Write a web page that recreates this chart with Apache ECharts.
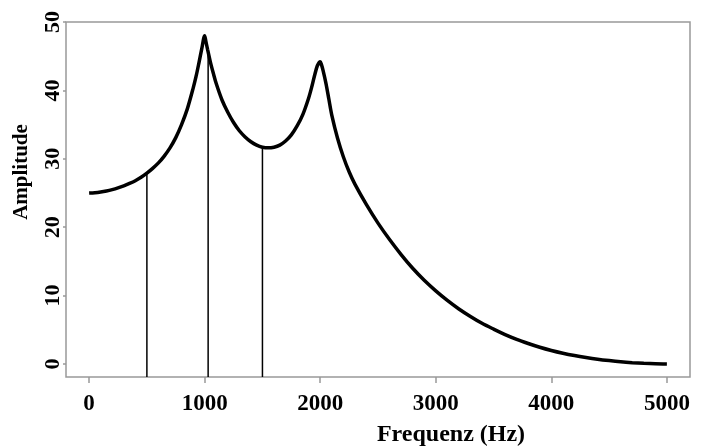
<!DOCTYPE html>
<html>
<head>
<meta charset="utf-8">
<script src="https://cdn.jsdelivr.net/npm/echarts@6/dist/echarts.min.js"></script>
<style>
  html, body { margin: 0; padding: 0; background: #fff; }
  #main { width: 702px; height: 448px; }
</style>
</head>
<body>
<div id="main"></div>
<script>
// Frequenz (Hz) und Amplitude
var freq = [0, 50, 100, 150, 200, 250, 300, 350, 400, 450, 500, 550, 600, 650, 700,
    750, 800, 850, 900, 925, 950, 975, 1000,
    1010, 1025, 1050, 1075, 1100, 1150, 1200, 1250, 1300, 1350, 1400, 1450, 1500,
    1550, 1600, 1650, 1700, 1750, 1800, 1850, 1900, 1925, 1950, 1975, 2000,
    2010, 2025, 2050, 2075, 2100, 2150, 2200, 2250, 2300, 2400, 2500, 2600, 2700,
    2800, 2900, 3000, 3100, 3200, 3300, 3400, 3500, 3600, 3700, 3800, 3900, 4000,
    4100, 4200, 4300, 4400, 4500, 4600, 4700, 4800, 4900, 5000];
var amp = [25.0, 25.05, 25.15, 25.3, 25.5, 25.75, 26.05, 26.4, 26.8, 27.3, 27.9, 28.6, 29.4, 30.4, 31.6,
    33.1, 35.0, 37.3, 40.3, 42.0, 44.0, 46.1, 48.0,
    47.2, 46.0, 44.1, 42.5, 41.0, 38.6, 36.8, 35.3, 34.1, 33.2, 32.5, 32.0, 31.7,
    31.6, 31.7, 32.0, 32.6, 33.5, 34.8, 36.5, 38.9, 40.4, 42.1, 43.6, 44.2,
    43.8, 42.9, 41.0, 38.7, 36.4, 33.0, 30.3, 28.1, 26.3, 23.3, 20.6, 18.2, 16.0,
    14.0, 12.25, 10.7, 9.3, 8.05, 6.95, 5.95, 5.1, 4.3, 3.6, 3.0, 2.45, 1.98,
    1.58, 1.24, 0.95, 0.7, 0.5, 0.33, 0.2, 0.1, 0.03, 0.0];

// senkrechte Linien
var lineFreq = [500, 1030, 1500];
var lineAmp = [27.9, 45.6, 31.7];

var xTicks = [0, 1000, 2000, 3000, 4000, 5000];
var yTicks = [0, 10, 20, 30, 40, 50];

var yMin = -1.9, yMax = 50;
var font = 'Liberation Serif';

var curve = [];
for (var i = 0; i < freq.length; i++) {
    curve.push([freq[i], amp[i]]);
}

var series = [{
    type: 'line',
    data: curve,
    showSymbol: false,
    smooth: 0.3,
    lineStyle: {color: '#000', width: 3.5},
    z: 3
}];
for (var j = 0; j < lineFreq.length; j++) {
    series.push({
        type: 'line',
        data: [[lineFreq[j], yMin], [lineFreq[j], lineAmp[j]]],
        showSymbol: false,
        lineStyle: {color: '#000', width: 1.5},
        z: 2
    });
}

var myChart = echarts.init(document.getElementById('main'));
var option = {
    animation: false,
    grid: {
        left: 66, top: 22, right: 12, bottom: 71,
        show: true, borderColor: '#999', borderWidth: 1.5
    },
    xAxis: {
        type: 'value',
        min: -200, max: 5200,
        axisLine: {show: false, onZero: false},
        splitLine: {show: false},
        axisTick: {
            show: true, length: 6, customValues: xTicks,
            lineStyle: {color: '#999', width: 1.5}
        },
        axisLabel: {
            customValues: xTicks, margin: 16,
            formatter: function (v) { return String(v); },
            fontFamily: font, fontWeight: 'bold', fontSize: 23, color: '#000'
        }
    },
    yAxis: {
        type: 'value',
        min: yMin, max: yMax,
        axisLine: {show: false, onZero: false},
        splitLine: {show: false},
        axisTick: {
            show: true, length: 3, customValues: yTicks,
            lineStyle: {color: '#999', width: 1.5}
        },
        axisLabel: {
            customValues: yTicks, rotate: 90, margin: 2,
            fontFamily: font, fontWeight: 'bold', fontSize: 22, color: '#000'
        }
    },
    graphic: [{
        type: 'text',
        x: 451, y: 435,
        style: {
            text: 'Frequenz (Hz)', fill: '#000',
            font: 'bold 24px "Liberation Serif"',
            textAlign: 'center', textVerticalAlign: 'middle'
        }
    }, {
        type: 'text',
        x: 22, y: 172,
        rotation: Math.PI / 2,
        style: {
            text: 'Amplitude', fill: '#000',
            font: 'bold 21px "Liberation Serif"',
            textAlign: 'center', textVerticalAlign: 'middle'
        }
    }],
    series: series
};
myChart.setOption(option);
</script>
</body>
</html>
